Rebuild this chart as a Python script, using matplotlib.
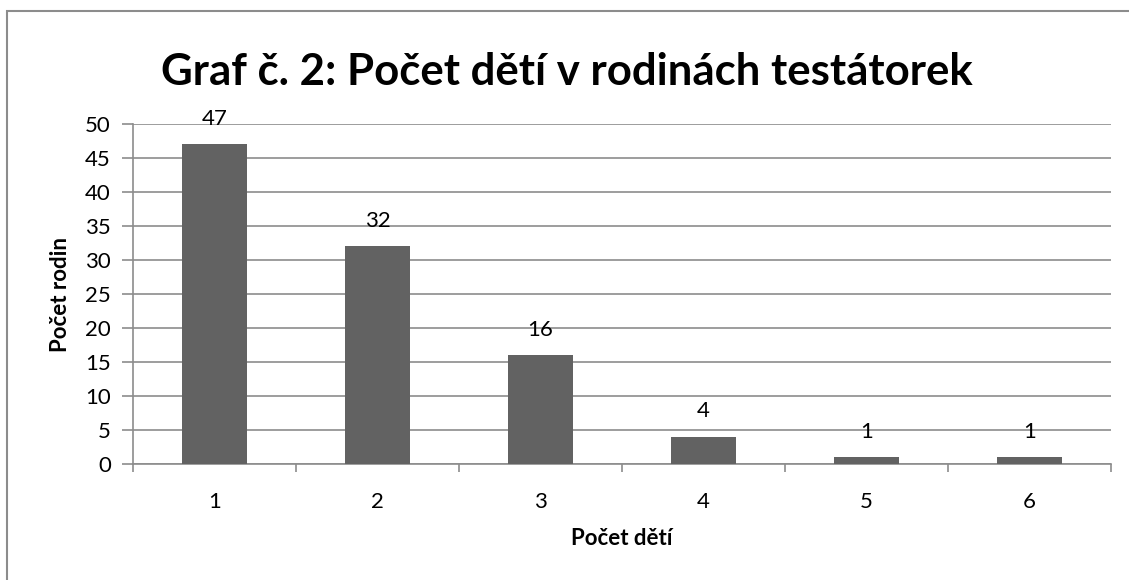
import matplotlib.pyplot as plt
import numpy as np
from matplotlib.patches import Rectangle

# data
kategorie = ['1', '2', '3', '4', '5', '6']
pocet_rodin = [47, 32, 16, 4, 1, 1]

plt.rcParams['font.family'] = ['Lato', 'DejaVu Sans']

fig = plt.figure(figsize=(11.29, 5.8), dpi=100)
ax = fig.add_axes([133 / 1129, 1 - 464 / 580, (1111 - 133) / 1129, (464 - 124) / 580])

x = np.arange(len(kategorie))
ax.bar(x, pocet_rodin, width=0.4, color='#626262', zorder=3)

# popisky hodnot nad sloupci
for i, v in enumerate(pocet_rodin):
    ax.annotate(str(v), (i, v), xytext=(0, 14), textcoords='offset points',
                ha='center', va='baseline', fontsize=16, color='black', zorder=4)

ax.set_xlim(-0.5, len(kategorie) - 0.5)
ax.set_ylim(0, 50)
ax.set_yticks(np.arange(0, 51, 5))
ax.set_xticks(x)
ax.set_xticklabels(kategorie)
ax.set_xticks(np.arange(-0.5, len(kategorie)), minor=True)
ax.tick_params(axis='x', which='major', length=0, pad=20, labelsize=16)
ax.tick_params(axis='x', which='minor', length=6, width=1.2, color='#8c8c8c')
ax.tick_params(axis='y', length=8, width=1.2, color='#8c8c8c', pad=8, labelsize=16)

ax.grid(axis='y', color='#8c8c8c', linewidth=1.2, zorder=0)
for s in ['top', 'right']:
    ax.spines[s].set_visible(False)
for s in ['left', 'bottom']:
    ax.spines[s].set_color('#8c8c8c')
    ax.spines[s].set_linewidth(1.2)

ax.set_xlabel('Počet dětí', fontsize=16, fontweight='bold', labelpad=12)
ax.set_ylabel('Počet rodin', fontsize=16, fontweight='bold', labelpad=10)

fig.text(567 / 1129, 1 - 72 / 580, 'Graf č. 2: Počet dětí v rodinách testátorek',
         ha='center', va='center', fontsize=31.5, fontweight='bold')

# vnější rámeček grafu
fig.patches.append(Rectangle((7 / 1129, -0.1), 1.2, 1 - 11 / 580 + 0.1,
                             transform=fig.transFigure, fill=False,
                             edgecolor='#8c8c8c', linewidth=1.5))

fig.savefig('out.png', dpi=100)
